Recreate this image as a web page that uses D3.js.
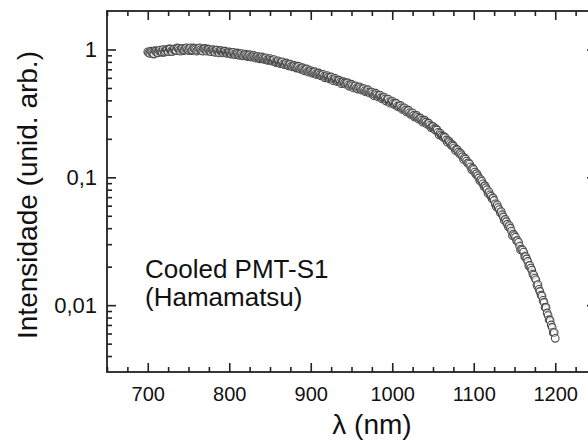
<!DOCTYPE html>
<html>
<head>
<meta charset="utf-8">
<script src="https://cdn.jsdelivr.net/npm/d3@7"></script>
<style>
  html, body { margin: 0; padding: 0; background: #fff; }
  svg { display: block; }
  text { font-family: "Liberation Sans", Arial, sans-serif; fill: #111; }
</style>
</head>
<body>
<svg id="chart" width="588" height="442"></svg>
<script>
// Scan 1: wavelengths 700, 702.5, ... 1200 nm
const scan1Start = 700;
const scan2Start = 701.25;
const wavelengthStep = 2.5;
// Relative intensity (arbitrary units), with its visible scatter
const intensityScan1 = [
  0.96, 0.93, 0.95, 0.92,
  0.97, 0.94, 0.99, 0.95,
  0.95, 1.0, 0.96, 1.01,
  0.96, 1.01, 0.98, 1.02,
  0.97, 1.02, 0.99, 1.03,
  0.98, 1.03, 0.99, 1.02,
  0.97, 1.02, 1.0, 0.97,
  1.02, 0.97, 1.0, 0.96,
  1.0, 0.95, 0.99, 0.94,
  0.98, 0.94, 0.97, 0.93,
  0.96, 0.92, 0.95, 0.91,
  0.94, 0.90, 0.93, 0.89,
  0.92, 0.88, 0.91, 0.87,
  0.90, 0.855, 0.885, 0.845,
  0.875, 0.835, 0.86, 0.82,
  0.85, 0.81, 0.835, 0.79,
  0.815, 0.775, 0.80, 0.76,
  0.785, 0.745, 0.77, 0.73,
  0.75, 0.715, 0.74, 0.70,
  0.72, 0.68, 0.705, 0.665,
  0.685, 0.65, 0.67, 0.635,
  0.655, 0.62, 0.64, 0.60,
  0.625, 0.59, 0.61, 0.57,
  0.595, 0.56, 0.575, 0.54,
  0.56, 0.535, 0.55, 0.515,
  0.535, 0.50, 0.52, 0.49,
  0.51, 0.48, 0.495, 0.465,
  0.485, 0.455, 0.465, 0.435,
  0.455, 0.425, 0.44, 0.41,
  0.425, 0.395, 0.41, 0.38,
  0.395, 0.37, 0.38, 0.355,
  0.365, 0.34, 0.35, 0.325,
  0.335, 0.31, 0.32, 0.295,
  0.305, 0.285, 0.29, 0.27,
  0.28, 0.26, 0.265, 0.245,
  0.25, 0.235, 0.235, 0.215,
  0.215, 0.205, 0.205, 0.188,
  0.19, 0.178, 0.176, 0.162,
  0.164, 0.153, 0.15, 0.138,
  0.139, 0.129, 0.127, 0.115,
  0.115, 0.106, 0.103, 0.094,
  0.093, 0.085, 0.083, 0.075,
  0.073, 0.068, 0.066, 0.059,
  0.058, 0.053, 0.051, 0.046,
  0.045, 0.041, 0.04, 0.035,
  0.035, 0.032, 0.031, 0.027,
  0.027, 0.024, 0.023, 0.0203,
  0.0195, 0.0175, 0.0163, 0.0143,
  0.0133, 0.012, 0.0109, 0.0096,
  0.0087, 0.0077, 0.007, 0.0061,
  0.0055
];
// Scan 2: wavelengths 701.25, 703.75, ... 1198.75 nm
const intensityScan2 = [
  0.94, 0.97, 0.93, 0.98,
  0.95, 0.98, 0.96, 1.0,
  0.97, 0.99, 1.01, 0.97,
  1.0, 0.98, 1.03, 0.99,
  1.01, 0.98, 1.02, 1.0,
  1.01, 0.98, 1.03, 1.0,
  0.99, 1.03, 0.98, 1.01,
  0.99, 1.01, 0.97, 0.99,
  0.97, 0.99, 0.96, 0.98,
  0.96, 0.97, 0.94, 0.95,
  0.94, 0.95, 0.92, 0.93,
  0.92, 0.925, 0.90, 0.91,
  0.90, 0.895, 0.88, 0.885,
  0.875, 0.87, 0.855, 0.86,
  0.85, 0.845, 0.83, 0.83,
  0.825, 0.82, 0.80, 0.805,
  0.79, 0.79, 0.77, 0.775,
  0.76, 0.76, 0.74, 0.745,
  0.73, 0.725, 0.71, 0.715,
  0.695, 0.695, 0.675, 0.68,
  0.665, 0.66, 0.645, 0.65,
  0.635, 0.63, 0.615, 0.615,
  0.605, 0.60, 0.585, 0.585,
  0.575, 0.57, 0.555, 0.555,
  0.545, 0.545, 0.53, 0.53,
  0.52, 0.515, 0.50, 0.505,
  0.495, 0.49, 0.475, 0.475,
  0.465, 0.465, 0.45, 0.445,
  0.44, 0.435, 0.42, 0.42,
  0.41, 0.405, 0.39, 0.39,
  0.38, 0.375, 0.36, 0.36,
  0.35, 0.345, 0.335, 0.33,
  0.32, 0.315, 0.305, 0.30,
  0.295, 0.29, 0.28, 0.275,
  0.27, 0.265, 0.255, 0.25,
  0.24, 0.24, 0.225, 0.222,
  0.21, 0.208, 0.196, 0.194,
  0.184, 0.18, 0.17, 0.166,
  0.158, 0.155, 0.145, 0.142,
  0.134, 0.13, 0.121, 0.118,
  0.11, 0.107, 0.099, 0.096,
  0.089, 0.086, 0.08, 0.077,
  0.071, 0.069, 0.062, 0.061,
  0.056, 0.054, 0.049, 0.047,
  0.043, 0.042, 0.038, 0.036,
  0.034, 0.032, 0.029, 0.0275,
  0.026, 0.024, 0.022, 0.0205,
  0.0188, 0.0172, 0.0158, 0.0145,
  0.0128, 0.0118, 0.0105, 0.0096,
  0.0083, 0.0076, 0.0067, 0.0061
];
const xTickValues = [700, 800, 900, 1000, 1100, 1200];
const yTickValues = [1, 0.1, 0.01];
const yTickLabels = ["1", "0,1", "0,01"];
const xTitle = "\u03BB (nm)";
const yTitle = "Intensidade (unid. arb.)";
const annotation = ["Cooled PMT-S1", "(Hamamatsu)"];

const data = [];
intensityScan1.forEach((v, i) => data.push({ x: scan1Start + i * wavelengthStep, y: v }));
intensityScan2.forEach((v, i) => data.push({ x: scan2Start + i * wavelengthStep, y: v }));
data.sort((a, b) => a.x - b.x);

const svg = d3.select("#chart");
const mLeft = 107, mRight = 596, mTop = 11, mBottom = 372;

const x = d3.scaleLinear().domain([650, 1250]).range([mLeft, mRight]);
const y = d3.scaleLog().domain([0.003, 2]).range([mBottom, mTop]);

const xMinor = d3.range(650, 1251, 25).filter(v => xTickValues.indexOf(v) < 0);
const yMinor = [];
[0.001, 0.01, 0.1, 1].forEach(d => { for (let k = 2; k <= 9; k++) { const v = d * k; if (v > 0.003 && v < 2) yMinor.push(v); } });

const axisColor = "#222";
const major = 9, minor = 5;

// Points
svg.append("g")
  .selectAll("circle")
  .data(data)
  .join("circle")
  .attr("cx", d => x(d.x))
  .attr("cy", d => y(d.y))
  .attr("r", 3.8)
  .attr("fill", "#fff")
  .attr("fill-opacity", 0.5)
  .attr("stroke", "#4a4a4a")
  .attr("stroke-width", 1.1);

function styleAxis(g) {
  g.select(".domain").remove();
  g.selectAll(".tick line").attr("stroke", axisColor).attr("stroke-width", 1.6);
}

// Bottom axis (ticks inward)
svg.append("g").attr("transform", `translate(0,${mBottom})`)
  .call(d3.axisBottom(x).tickValues(xTickValues).tickSize(-major).tickPadding(15).tickFormat(d3.format("d")))
  .call(styleAxis)
  .call(g => g.selectAll(".tick text").attr("font-size", 20).attr("fill", "#111"));
svg.append("g").attr("transform", `translate(0,${mBottom})`)
  .call(d3.axisBottom(x).tickValues(xMinor).tickSize(-minor).tickFormat(""))
  .call(styleAxis);

// Top axis (ticks inward, no labels)
svg.append("g").attr("transform", `translate(0,${mTop})`)
  .call(d3.axisTop(x).tickValues(xTickValues).tickSize(-major).tickFormat(""))
  .call(styleAxis);
svg.append("g").attr("transform", `translate(0,${mTop})`)
  .call(d3.axisTop(x).tickValues(xMinor).tickSize(-minor).tickFormat(""))
  .call(styleAxis);

// Left axis
svg.append("g").attr("transform", `translate(${mLeft},0)`)
  .call(d3.axisLeft(y).tickValues(yTickValues).tickSize(-major).tickPadding(10)
    .tickFormat((d, i) => yTickLabels[i]))
  .call(styleAxis)
  .call(g => g.selectAll(".tick text").attr("font-size", 22).attr("fill", "#111"));
svg.append("g").attr("transform", `translate(${mLeft},0)`)
  .call(d3.axisLeft(y).tickValues(yMinor).tickSize(-minor).tickFormat(""))
  .call(styleAxis);

// Right axis
svg.append("g").attr("transform", `translate(${mRight},0)`)
  .call(d3.axisRight(y).tickValues(yTickValues).tickSize(-major).tickFormat(""))
  .call(styleAxis);
svg.append("g").attr("transform", `translate(${mRight},0)`)
  .call(d3.axisRight(y).tickValues(yMinor).tickSize(-minor).tickFormat(""))
  .call(styleAxis);

// Frame
svg.append("rect")
  .attr("x", mLeft).attr("y", mTop)
  .attr("width", mRight - mLeft).attr("height", mBottom - mTop)
  .attr("fill", "none").attr("stroke", axisColor).attr("stroke-width", 1.8);

// Titles
svg.append("text")
  .attr("x", 372).attr("y", 434)
  .attr("text-anchor", "middle").attr("font-size", 28)
  .text(xTitle);

svg.append("text")
  .attr("transform", "translate(37,195) rotate(-90)")
  .attr("text-anchor", "middle").attr("font-size", 28)
  .text(yTitle);

// Annotation
svg.append("text")
  .attr("x", 145).attr("y", 278)
  .attr("font-size", 26)
  .text(annotation[0]);
svg.append("text")
  .attr("x", 145).attr("y", 306)
  .attr("font-size", 26)
  .text(annotation[1]);
</script>
</body>
</html>
